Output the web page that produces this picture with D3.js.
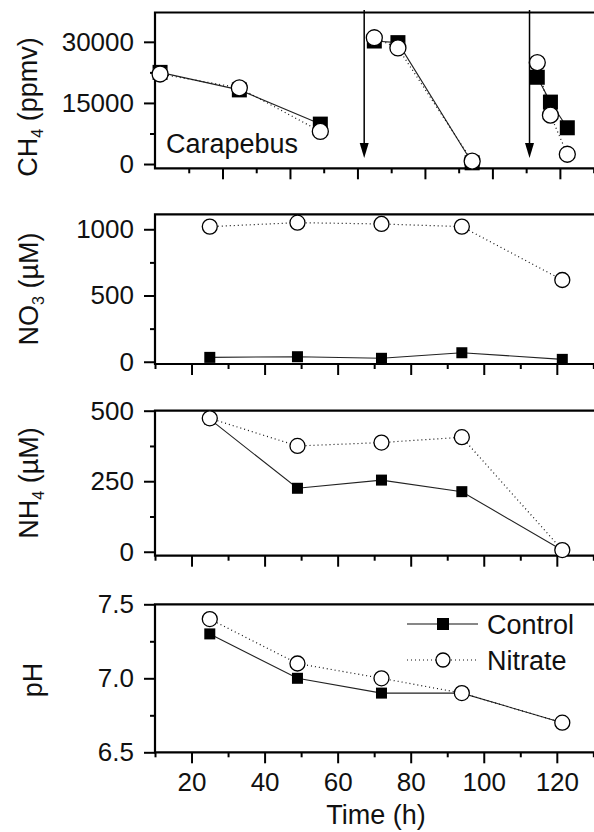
<!DOCTYPE html>
<html>
<head>
<meta charset="utf-8">
<script src="https://cdn.jsdelivr.net/npm/d3@7"></script>
<style>
  body { margin: 0; background: #fff; }
  svg { display: block; font-family: "Liberation Sans", Arial, sans-serif; }
</style>
</head>
<body>
<svg width="594" height="832"></svg>
<script>
// sampling times (h) for NO3, NH4, pH
var hours = [25, 49, 72, 94, 121.5];
var no3Control = [33, 38, 26, 68, 18];
var no3Nitrate = [1020, 1050, 1040, 1020, 617];
var nh4Control = [470, 225, 254, 213, 5];
var nh4Nitrate = [473, 375, 387, 406, 6];
var phControl = [7.3, 7.0, 6.9, 6.9, 6.7];
var phNitrate = [7.4, 7.1, 7.0, 6.9, 6.7];

// CH4 headspace, one group per injection
var ch4Hours = [[1.5, 25, 49], [65, 72, 94], [113.3, 117.2, 122.2]];
var ch4Control = [[22500, 18200, 9800], [30200, 29800, 300], [21300, 15200, 8900]];
var ch4Nitrate = [[22100, 18700, 8000], [31000, 28500, 700], [24900, 12000, 2400]];
var injections = [62, 111];

var xTicks = [20, 40, 60, 80, 100, 120];
var xMinor = [10, 30, 50, 70, 90, 110, 130];

var svg = d3.select('svg');
var left = 155, right = 597;

var xLow = d3.scaleLinear().domain([10, 131]).range([left, right]);
var xCh4 = d3.scaleLinear().domain([0, 131]).range([left, right]);

var panels = [
	{ top: 12.5, bottom: 168.3, domain: [-1050, 37200], ticks: [0, 15000, 30000], minor: [7500, 22500],
		x: xCh4, label: ['CH', '4', ' (ppmv)'], labelY: 107, labelX: 37 },
	{ top: 214.3, bottom: 364, domain: [-17, 1113], ticks: [0, 500, 1000], minor: [250, 750],
		x: xLow, label: ['NO', '3', '  (\u00b5M)'], labelY: 289, labelX: 38 },
	{ top: 410.7, bottom: 555.7, domain: [-14, 500], ticks: [0, 250, 500], minor: [125, 375],
		x: xLow, label: ['NH', '4', ' (\u00b5M)'], labelY: 483, labelX: 38 },
	{ top: 604.3, bottom: 752.3, domain: [6.5, 7.5], ticks: [6.5, 7.0, 7.5], minor: [6.75, 7.25],
		x: xLow, label: ['pH'], labelY: 680, labelX: 42, fmt: d3.format('.1f'), xLabels: true }
];

panels.forEach(function (p) {
	p.y = d3.scaleLinear().domain(p.domain).range([p.bottom, p.top]);
	var g = svg.append('g');

	// y axis, major + minor
	var ya = g.append('g').attr('transform', 'translate(' + left + ',0)')
		.call(d3.axisLeft(p.y).tickValues(p.ticks).tickSize(11).tickPadding(10)
			.tickFormat(p.fmt || d3.format('d')));
	var ym = g.append('g').attr('transform', 'translate(' + left + ',0)')
		.call(d3.axisLeft(p.y).tickValues(p.minor).tickSize(5).tickFormat(''));

	// x axis, major + minor
	var xa = g.append('g').attr('transform', 'translate(0,' + p.bottom + ')')
		.call(d3.axisBottom(p.x).tickValues(xTicks).tickSize(11).tickPadding(9)
			.tickFormat(p.xLabels ? d3.format('d') : ''));
	var xm = g.append('g').attr('transform', 'translate(0,' + p.bottom + ')')
		.call(d3.axisBottom(p.x).tickValues(xMinor).tickSize(5).tickFormat(''));

	[ya, ym, xa, xm].forEach(function (a) {
		a.select('.domain').remove();
		a.selectAll('line').attr('stroke', '#000').attr('stroke-width', 2);
		a.selectAll('text').attr('fill', '#111').attr('font-size', 26)
			.attr('font-family', '"Liberation Sans", Arial, sans-serif');
	});

	// frame (right side is cut by the picture edge)
	g.append('path')
		.attr('d', 'M' + right + ',' + p.top + 'H' + left + 'V' + p.bottom + 'H' + right)
		.attr('fill', 'none').attr('stroke', '#000').attr('stroke-width', 2.2);

	// axis title, rotated
	var t = g.append('text')
		.attr('transform', 'translate(' + p.labelX + ',' + p.labelY + ') rotate(-90)')
		.attr('text-anchor', 'middle').attr('font-size', 27).attr('fill', '#111');
	t.append('tspan').text(p.label[0]);
	if (p.label.length > 1) {
		t.append('tspan').attr('font-size', 16).attr('dy', 6).text(p.label[1]);
		t.append('tspan').attr('dy', -6).text(p.label[2]);
	}
});

var line = function (x, y) {
	return d3.line().x(function (d) { return x(d[0]); }).y(function (d) { return y(d[1]); });
};

var drawSeries = function (g, x, y, ts, vals, kind) {
	var pts = ts.map(function (t, i) { return [t, vals[i]]; });
	g.append('path').datum(pts)
		.attr('d', line(x, y))
		.attr('fill', 'none')
		.attr('stroke', kind === 'control' ? '#222' : '#111')
		.attr('stroke-width', kind === 'control' ? 1.1 : 1.2)
		.attr('stroke-dasharray', kind === 'control' ? null : '1,3');
	return pts;
};

var drawMarks = function (g, x, y, pts, kind, size) {
	if (kind === 'control') {
		g.selectAll(null).data(pts).enter().append('rect')
			.attr('x', function (d) { return x(d[0]) - size / 2; })
			.attr('y', function (d) { return y(d[1]) - size / 2; })
			.attr('width', size).attr('height', size)
			.attr('fill', '#000');
	} else {
		g.selectAll(null).data(pts).enter().append('circle')
			.attr('cx', function (d) { return x(d[0]); })
			.attr('cy', function (d) { return y(d[1]); })
			.attr('r', size)
			.attr('fill', '#fff').attr('stroke', '#000').attr('stroke-width', 1.3);
	}
};

// CH4 panel
var pc = panels[0];
var gc = svg.append('g');
ch4Hours.forEach(function (ts, k) {
	var a = drawSeries(gc, pc.x, pc.y, ts, ch4Control[k], 'control');
	var b = drawSeries(gc, pc.x, pc.y, ts, ch4Nitrate[k], 'nitrate');
	drawMarks(gc, pc.x, pc.y, a, 'control', 15);
	drawMarks(gc, pc.x, pc.y, b, 'nitrate', 8);
});

// injection arrows
injections.forEach(function (t) {
	var ax = pc.x(t);
	gc.append('line').attr('x1', ax).attr('x2', ax).attr('y1', 10).attr('y2', 146)
		.attr('stroke', '#000').attr('stroke-width', 1.5);
	gc.append('path')
		.attr('d', 'M' + (ax - 4.5) + ',143L' + (ax + 4.5) + ',143L' + ax + ',158Z')
		.attr('fill', '#000');
});

gc.append('text').attr('x', 166).attr('y', 153).attr('font-size', 27).attr('fill', '#111')
	.text('Carapebus');

// lower panels
[[no3Control, no3Nitrate], [nh4Control, nh4Nitrate], [phControl, phNitrate]].forEach(function (s, i) {
	var p = panels[i + 1];
	var g = svg.append('g');
	var a = drawSeries(g, p.x, p.y, hours, s[0], 'control');
	var b = drawSeries(g, p.x, p.y, hours, s[1], 'nitrate');
	drawMarks(g, p.x, p.y, a, 'control', 11);
	drawMarks(g, p.x, p.y, b, 'nitrate', 7.5);
});

// legend
var lg = svg.append('g');
var legendItems = [
	{ name: 'Control', kind: 'control', y: 624 },
	{ name: 'Nitrate', kind: 'nitrate', y: 660 }
];
legendItems.forEach(function (d) {
	lg.append('line').attr('x1', 407).attr('x2', 478).attr('y1', d.y).attr('y2', d.y)
		.attr('stroke', '#111').attr('stroke-width', 1.2)
		.attr('stroke-dasharray', d.kind === 'control' ? null : '1,3');
	if (d.kind === 'control') {
		lg.append('rect').attr('x', 437).attr('y', d.y - 6).attr('width', 12).attr('height', 12).attr('fill', '#000');
	} else {
		lg.append('circle').attr('cx', 443).attr('cy', d.y).attr('r', 7)
			.attr('fill', '#fff').attr('stroke', '#000').attr('stroke-width', 1.3);
	}
	lg.append('text').attr('x', 487).attr('y', d.y + 10).attr('font-size', 27).attr('fill', '#111')
		.text(d.name);
});

// x title
svg.append('text').attr('x', (left + right) / 2).attr('y', 824)
	.attr('text-anchor', 'middle').attr('font-size', 27).attr('fill', '#111')
	.text('Time (h)');
</script>
</body>
</html>
